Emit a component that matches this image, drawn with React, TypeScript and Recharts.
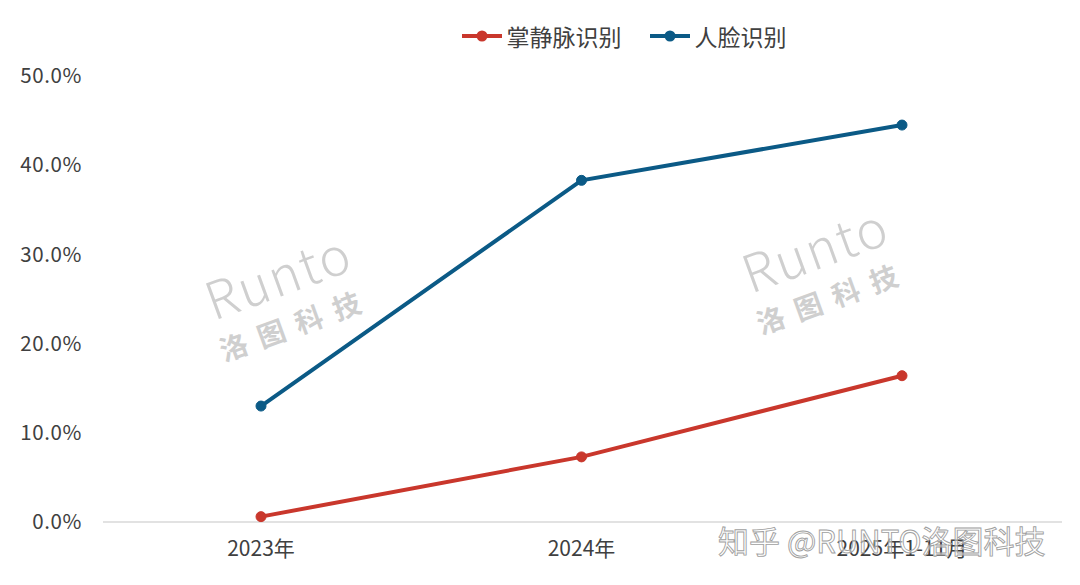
import * as React from "react";
import { LineChart, Line, XAxis, YAxis } from "recharts";

const categories = ["2023年", "2024年", "2025年1-11月"];
const palmVein = [0.6, 7.3, 16.4];
const faceRecognition = [13.0, 38.3, 44.5];
const yTicks = [0, 10, 20, 30, 40, 50];

const series = [
  { key: "palm", name: "掌静脉识别", color: "#c9372c", values: palmVein },
  { key: "face", name: "人脸识别", color: "#0b5a86", values: faceRecognition },
];

const rows = categories.map((label, i) => ({
  label,
  palm: palmVein[i],
  face: faceRecognition[i],
}));

const font = '"Noto Sans CJK SC", "Noto Sans", sans-serif';

function Watermark({ x, y }: { x: number; y: number }) {
  return (
    <g transform={`translate(${x} ${y}) rotate(-20)`} fill="#cfcfcf" style={{ fontFamily: font }}>
      <text x={0} y={0} fontSize={52} fontWeight={300} textAnchor="middle" letterSpacing={2}>
        Runto
      </text>
      <text x={0} y={42} fontSize={28} fontWeight={700} textAnchor="middle" letterSpacing={12}>
        洛图科技
      </text>
    </g>
  );
}

export default function App() {
  return (
    <div
      style={{
        position: "fixed",
        left: 0,
        top: 0,
        width: 1080,
        height: 585,
        background: "#fff",
        fontFamily: font,
      }}
    >
      <LineChart width={1080} height={585} data={rows} margin={{ top: 76, right: 18, bottom: 0, left: 0 }}>
        <XAxis
          dataKey="label"
          padding={{ left: 158, right: 160 }}
          axisLine={{ stroke: "#d9d9d9", strokeWidth: 1.5 }}
          tickLine={false}
          tickSize={0}
          tickMargin={19}
          height={63}
          tick={{ fill: "#404040", fontSize: 21, fontFamily: font }}
        />
        <YAxis
          domain={[0, 50]}
          ticks={yTicks}
          width={103}
          axisLine={false}
          tickLine={false}
          tickSize={0}
          tickMargin={21}
          tickFormatter={(v: number) => `${v.toFixed(1)}%`}
          tick={{ fill: "#404040", fontSize: 20.5, fontFamily: font, letterSpacing: 0.6 }}
        />
        {series.map((s) => (
          <Line
            key={s.key}
            dataKey={s.key}
            name={s.name}
            stroke={s.color}
            strokeWidth={4}
            dot={{ r: 5, fill: s.color, stroke: s.color, strokeWidth: 1 }}
            activeDot={false}
            isAnimationActive={false}
          />
        ))}
      </LineChart>

      <svg
        width={1080}
        height={585}
        style={{ position: "absolute", left: 0, top: 0, pointerEvents: "none" }}
      >
        <Watermark x={285} y={295} />
        <Watermark x={822} y={268} />
        <text
          x={718}
          y={553}
          fontSize={31}
          fill="#ffffff"
          fillOpacity={0.55}
          stroke="#a0a0a0"
          strokeWidth={0.9}
          style={{ fontFamily: font }}
        >
          知乎 @RUNTO洛图科技
        </text>
      </svg>

      <div
        style={{
          position: "absolute",
          top: 21,
          left: 0,
          width: 1080,
          display: "flex",
          justifyContent: "center",
          gap: 26,
          paddingLeft: 166,
          boxSizing: "border-box",
        }}
      >
        {series.map((s) => (
          <div key={s.key} style={{ display: "flex", alignItems: "center", gap: 3 }}>
            <svg width={44} height={14}>
              <line x1={2} y1={7} x2={42} y2={7} stroke={s.color} strokeWidth={4} />
              <circle cx={22} cy={7} r={5.5} fill={s.color} />
            </svg>
            <span style={{ fontSize: 23, color: "#404040", lineHeight: "30px" }}>{s.name}</span>
          </div>
        ))}
      </div>
    </div>
  );
}
